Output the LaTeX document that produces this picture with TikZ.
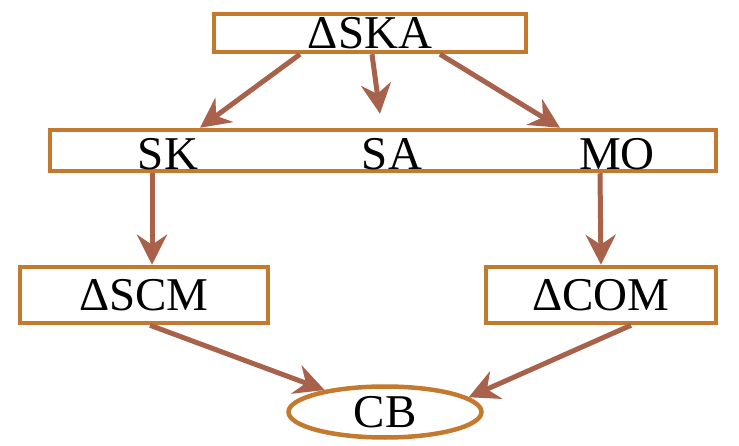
\documentclass[tikz,border=0pt]{standalone}
\usepackage{fontspec}
\setmainfont{Liberation Serif}
\usetikzlibrary{arrows.meta,shapes.geometric}
\definecolor{boxline}{HTML}{C47A2E}
\definecolor{arrowline}{HTML}{A8614B}

\begin{document}
\begin{tikzpicture}[x=1pt,y=-1pt,
	box/.style={draw=boxline, line width=4.5pt, inner sep=0pt, font=\fontsize{47}{49}\selectfont},
	word/.style={inner sep=0pt, font=\fontsize{47}{49}\selectfont},
	link/.style={draw=arrowline, line width=5pt, -{Stealth[length=30pt,width=30pt,inset=10pt]}}]
			\useasboundingbox (0,0) rectangle (739,446);
			% boxes
			\node[box, minimum width=312pt, minimum height=38pt] (ska) at (370,33) {ΔSKA};
			\node[box, minimum width=666pt, minimum height=41pt] (mid) at (383,150.5) {};
			\node[word] (sk) at (168,154) {SK};
			\node[word] (sa) at (392,154) {SA};
			\node[word] (mo) at (617,154) {MO};
			\node[box, minimum width=248pt, minimum height=56pt] (scm) at (144,295) {ΔSCM};
			\node[box, minimum width=230pt, minimum height=56pt] (com) at (601,295) {ΔCOM};
			\node[box, ellipse, minimum width=193pt, minimum height=51pt] (cb) at (385,412) {CB};
			% arrows
			\draw[link] ([xshift=-70pt]ska.south) -- ([xshift=-183pt]mid.north);
			\draw[link] ([xshift=2pt]ska.south) -- ([xshift=-3pt,yshift=14pt]mid.north);
			\draw[link] ([xshift=70pt]ska.south) -- ([xshift=177pt]mid.north);
			\draw[link] ([xshift=-231pt]mid.south) -- ([xshift=8pt]scm.north);
			\draw[link] ([xshift=217pt]mid.south) -- (com.north);
			\draw[link] ([xshift=6pt]scm.south) -- (cb.160);
			\draw[link] ([xshift=30pt]com.south) -- (cb.10);
		\end{tikzpicture}
\end{document}
